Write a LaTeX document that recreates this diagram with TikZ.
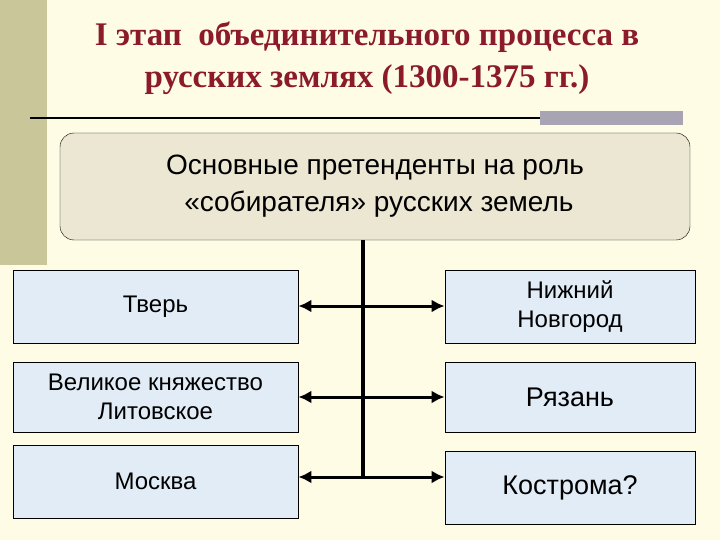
\documentclass[tikz,border=0pt]{standalone}
\usepackage{fontspec}
\setmainfont{Liberation Sans}
\newfontfamily\titlefont{Liberation Serif}
\usetikzlibrary{arrows.meta}
\definecolor{bgc}{HTML}{FFFCE6}
\definecolor{olive}{HTML}{C9C69A}
\definecolor{titc}{HTML}{8B1A2A}
\definecolor{boxb}{HTML}{E2ECF6}
\definecolor{topb}{HTML}{ECE7D3}
\definecolor{grayb}{HTML}{A9A4B4}
\begin{document}
\begin{tikzpicture}[x=1pt,y=-1pt,
  bluebox/.style={draw=black,fill=boxb,line width=0.8pt,align=center,font=\fontsize{24}{29}\selectfont,inner sep=0pt},
  conn/.style={line width=3pt,-{Latex[length=13pt,width=13pt]}}]
\useasboundingbox (0,0) rectangle (720,540);
\fill[bgc] (0,0) rectangle (720,540);
\fill[olive] (0,0) rectangle (47,265);
\node[text=titc,font=\titlefont\bfseries\fontsize{33}{42}\selectfont,align=center] (title) at (367,58) {I этап\ \ объединительного процесса в\\русских землях (1300-1375 гг.)};
\draw[line width=1.5pt] (30,118) -- (540,118);
\fill[grayb] (540,111) rectangle (683,125);
\node[draw=black,fill=topb,rounded corners=14pt,minimum width=630pt,minimum height=107pt,align=center,font=\fontsize{28}{37}\selectfont,inner sep=0pt] (top) at (375,186.5) {Основные претенденты на роль\\\ «собирателя» русских земель};
\node[bluebox,minimum width=285pt,minimum height=73pt] (tv) at (155.5,306.5) {Тверь};
\node[bluebox,minimum width=285pt,minimum height=70pt] (vkl) at (155.5,397) {Великое княжество\\Литовское};
\node[bluebox,minimum width=285pt,minimum height=73pt] (mo) at (155.5,481.5) {Москва};
\node[bluebox,minimum width=250pt,minimum height=73pt] (nn) at (570,306.5) {Нижний\\Новгород};
\node[bluebox,minimum width=250pt,minimum height=70pt,font=\fontsize{27}{32}\selectfont] (rz) at (570,397) {Рязань};
\node[bluebox,minimum width=250pt,minimum height=73pt,font=\fontsize{27}{32}\selectfont] (ko) at (570,488) {Кострома?};
\coordinate (b) at (363,478);
\draw[line width=3.5pt] (top.south -| b) -- (b);
\draw[conn] (363,306) -- (tv.east |- 0,306);
\draw[conn] (363,306) -- (nn.west |- 0,306);
\draw[conn] (363,397) -- (vkl.east |- 0,397);
\draw[conn] (363,397) -- (rz.west |- 0,397);
\draw[conn] (363,477) -- (mo.east |- 0,477);
\draw[conn] (363,477) -- (ko.west |- 0,477);
\end{tikzpicture}
\end{document}
